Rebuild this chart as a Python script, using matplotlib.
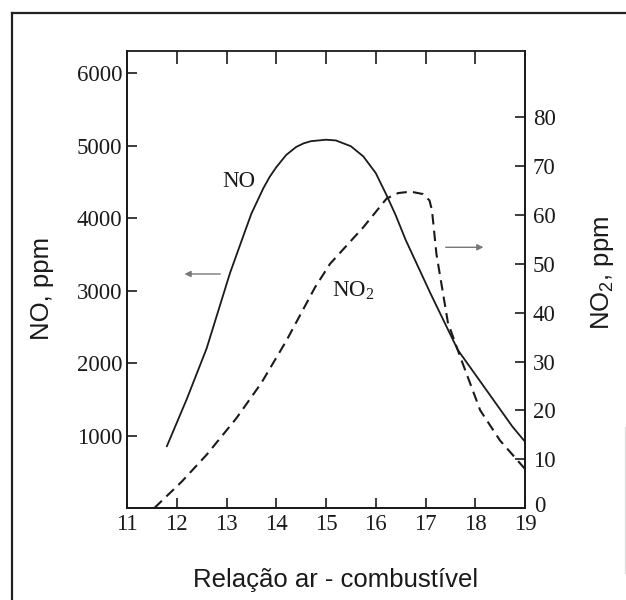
import matplotlib
matplotlib.use("Agg")
import matplotlib.pyplot as plt
from matplotlib.lines import Line2D
from matplotlib.transforms import ScaledTranslation

# ---- data ----
no_x = [11.8, 12.2, 12.6, 13.07, 13.3, 13.5, 13.74, 13.87, 14.0, 14.2, 14.4, 14.55, 14.7, 15.0, 15.2,
        15.5, 15.75, 16.0, 16.2, 16.4, 16.6, 17.1, 17.65, 18.2, 18.75, 19.0]
no_y = [850, 1500, 2200, 3240, 3680, 4060, 4410, 4570, 4700, 4870, 4980, 5030, 5060, 5080, 5070,
        4990, 4850, 4620, 4340, 4040, 3700, 2960, 2180, 1650, 1120, 915]

no2_x = [11.55, 12.1, 12.6, 13.2, 13.7, 14.2, 14.78, 15.08, 15.75, 16.22, 16.45, 16.7, 16.95, 17.08, 17.13,
         17.22, 17.45, 17.7, 18.1, 18.5, 19.0]
no2_y = [0, 5.4, 10.9, 18.4, 25.6, 34.2, 45.2, 50.0, 57.5, 63.4, 64.5, 64.8, 64.3, 63.0, 61.0,
         52.0, 38.0, 30.9, 20.0, 13.8, 8.0]

x_ticks = [11, 12, 13, 14, 15, 16, 17, 18, 19]
top_ticks = [12, 13, 14, 15, 16, 17, 18]
left_ticks = [1000, 2000, 3000, 4000, 5000, 6000]
right_ticks = [0, 10, 20, 30, 40, 50, 60, 70, 80]

plt.rcParams['mathtext.fontset'] = 'custom'
plt.rcParams['mathtext.rm'] = 'Liberation Serif'
plt.rcParams['mathtext.sf'] = 'Liberation Sans'

SERIF = 'Liberation Serif'
SANS = 'Liberation Sans'
TICK_FS = 16.5
LABEL_FS = 18.5
INK = '#1a1a1a'

W, H = 626, 600
fig = plt.figure(figsize=(W / 100, H / 100), dpi=100)
ax = fig.add_axes([127 / W, 1 - 508 / H, 398 / W, 456.5 / H])
ax2 = ax.twinx()

ax.set_xlim(11, 19)
ax.set_ylim(0, 6297)
ax2.set_ylim(0, 93.5)

for a in (ax, ax2):
    for s in a.spines.values():
        s.set_linewidth(1.3)
        s.set_color(INK)
    a.spines['top'].set_visible(False)
    a.patch.set_visible(False)

ax.plot(no_x, no_y, color=INK, lw=1.3, solid_capstyle='round', solid_joinstyle='round')
ax2.plot(no2_x, no2_y, color=INK, lw=1.5, linestyle=(0, (5, 3)))

# x ticks
ax.set_xticks(x_ticks)
ax.set_xticklabels([str(v) for v in x_ticks], fontfamily=SERIF, fontsize=TICK_FS)
ax.tick_params(axis='x', direction='in', length=7.5, width=1.2, color=INK,
               pad=4, top=False, labelcolor=INK)
sec = ax.secondary_xaxis('top')
sec.set_xticks(top_ticks)
sec.set_xticklabels([])
sec.tick_params(axis='x', direction='in', length=9.5, width=1.2, color=INK)
sec.spines['top'].set_linewidth(1.3)
sec.spines['top'].set_color(INK)

# left y ticks
ax.set_yticks(left_ticks)
ax.set_yticklabels([str(v) for v in left_ticks], fontfamily=SERIF, fontsize=TICK_FS)
ax.tick_params(axis='y', direction='in', length=7.5, width=1.2, color=INK,
               pad=3.5, right=False, labelcolor=INK)

# right y ticks
ax2.set_yticks(right_ticks)
ax2.set_yticklabels([str(v) for v in right_ticks], fontfamily=SERIF, fontsize=TICK_FS)
ax2.tick_params(axis='y', direction='in', length=7.5, width=1.2, color=INK,
                pad=5.5, labelcolor=INK)
for lab in ax2.get_yticklabels():
    if lab.get_text() == '0':
        lab.set_transform(lab.get_transform() + ScaledTranslation(1 / 100, 4 / 100, fig.dpi_scale_trans))

# curve labels
ax.text(13.24, 4497, 'NO', fontfamily=SERIF, fontsize=TICK_FS, ha='center', va='center', color=INK)
ax2.text(15.55, 44.6, r'NO$_\mathrm{2}$', fontfamily=SERIF, fontsize=TICK_FS, ha='center', va='center', color=INK)

# arrows
ax.annotate('', xy=(12.10, 3228), xytext=(12.93, 3228),
            arrowprops=dict(arrowstyle='-|>', color='#777777', lw=1.0, mutation_scale=9))
ax2.annotate('', xy=(18.22, 53.4), xytext=(17.35, 53.4),
             arrowprops=dict(arrowstyle='-|>', color='#777777', lw=1.0, mutation_scale=9))

# axis labels
fig.text(41.7 / W, 1 - 288 / H, 'NO, ppm', rotation=90, fontfamily=SANS, fontsize=LABEL_FS,
         ha='center', va='center', color=INK)
fig.text(603 / W, 1 - 273 / H, r'NO$_\mathsf{2}$, ppm', rotation=90, fontfamily=SANS,
         fontsize=LABEL_FS, ha='center', va='center', color=INK)
fig.text(336 / W, 1 - 580 / H, 'Relação ar - combustível', fontfamily=SANS, fontsize=LABEL_FS,
         ha='center', va='center', color=INK)

# outer frame (top and left edges visible)
fig.add_artist(Line2D([12 / W, 1.0], [1 - 13 / H, 1 - 13 / H], transform=fig.transFigure,
                      color='#222222', lw=1.6))
fig.add_artist(Line2D([12 / W, 12 / W], [1 - 13 / H, 0.0], transform=fig.transFigure,
                      color='#222222', lw=1.6))
fig.add_artist(Line2D([625 / W, 625 / W], [1 - 427 / H, 1 - 573 / H], transform=fig.transFigure,
                      color='#dddddd', lw=1.0))

fig.savefig('out.png', dpi=100)
